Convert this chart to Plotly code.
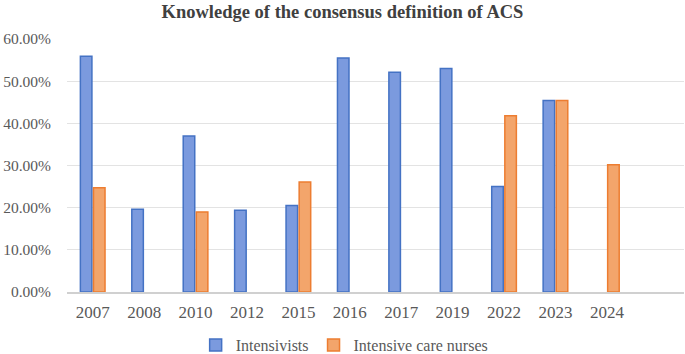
import plotly.graph_objects as go

years = ["2007", "2008", "2010", "2012", "2015", "2016", "2017", "2019", "2022", "2023", "2024"]
intensivists = [55.9, 19.6, 37.0, 19.4, 20.5, 55.5, 52.1, 53.0, 25.0, 45.4, None]
nurses = [24.7, None, 19.0, None, 26.1, None, None, None, 41.8, 45.4, 30.2]
y_ticks = [0, 10, 20, 30, 40, 50, 60]

font_family = "Liberation Serif"
gray = "#595959"

fig = go.Figure()
fig.add_trace(go.Bar(
    x=years, y=intensivists, name="Intensivists",
    marker=dict(color="#7b9ade", line=dict(color="#4472c4", width=1.5)),
))
fig.add_trace(go.Bar(
    x=years, y=nurses, name="Intensive care nurses",
    marker=dict(color="#f3a56b", line=dict(color="#ed7d31", width=1.5)),
))

fig.update_layout(
    width=685, height=354,
    margin=dict(l=67, r=1, t=39, b=62, autoexpand=False),
    paper_bgcolor="white", plot_bgcolor="white",
    font=dict(family=font_family, color=gray),
    barmode="group", bargap=0.49, bargroupgap=0.12,
    title=dict(
        text="<b>Knowledge of the consensus definition of ACS</b>",
        x=0.5, xanchor="center", y=1 - 12 / 354, yanchor="middle",
        font=dict(family=font_family, size=18.5, color="#404040"),
    ),
    legend=dict(
        orientation="h", x=0.45, xanchor="center", y=-53 / 253, yanchor="middle",
        font=dict(family=font_family, size=16, color=gray),
        itemwidth=30,
    ),
    xaxis=dict(
        type="category", categoryorder="array", categoryarray=years,
        range=[-0.5, 11.5], showgrid=False, automargin=False,
        showline=True, linecolor="#d0d0d0", linewidth=1.5,
        ticks="", tickfont=dict(family=font_family, size=17, color=gray),
        ticklabelstandoff=4,
    ),
    yaxis=dict(
        range=[0, 60], tickvals=y_ticks, automargin=False,
        ticktext=[f"{v:.2f}%" for v in y_ticks],
        showgrid=True, gridcolor="#e3e3e3", gridwidth=1.2,
        zeroline=False, showline=False,
        tickfont=dict(family=font_family, size=15.5, color=gray),
        ticklabelstandoff=15,
    ),
)

fig.write_html(
    "out.html",
    config={"displayModeBar": False},
    post_script="document.body.style.margin='0';document.body.style.padding='0';",
)
